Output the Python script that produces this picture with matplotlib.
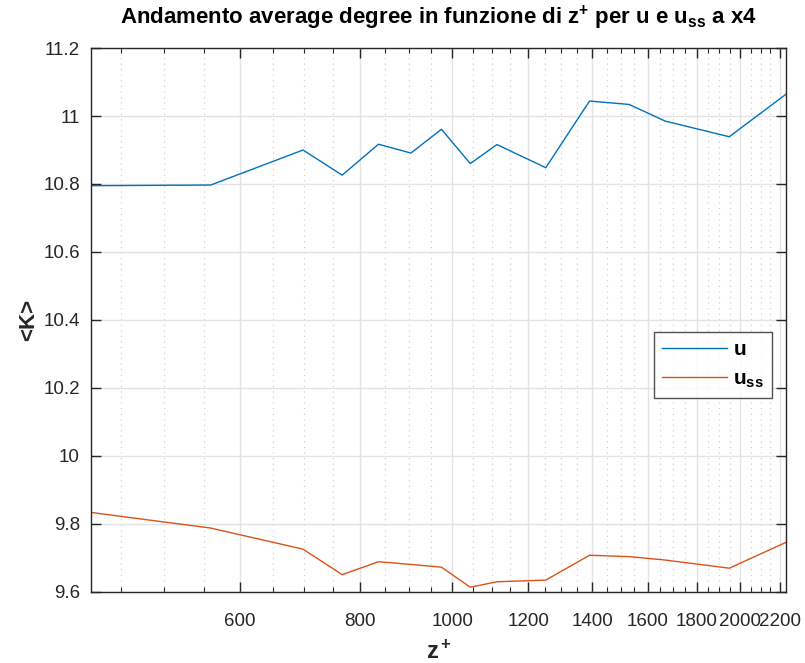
import numpy as np
import matplotlib
matplotlib.use('Agg')
import matplotlib.pyplot as plt
from matplotlib.ticker import FixedLocator, FuncFormatter, NullFormatter

plt.rcParams['font.family'] = ['Liberation Sans', 'DejaVu Sans']
plt.rcParams['mathtext.fontset'] = 'custom'
plt.rcParams['mathtext.rm'] = 'Liberation Sans'
plt.rcParams['mathtext.bf'] = 'Liberation Sans:bold'
plt.rcParams['mathtext.it'] = 'Liberation Sans:italic'

# z+ positions
z_plus = [419, 559, 698, 767, 837, 905, 974, 1044, 1113, 1252, 1391, 1530, 1669, 1947, 2232]
# average degree for u and u_ss
k_u = [10.795, 10.797, 10.900, 10.826, 10.917, 10.891, 10.961, 10.860, 10.916,
       10.848, 11.044, 11.034, 10.985, 10.939, 11.064]
k_uss = [9.834, 9.788, 9.726, 9.651, 9.689, 9.681, 9.673, 9.614, 9.630,
         9.635, 9.708, 9.704, 9.694, 9.670, 9.746]

major_x = [600, 800, 1000, 1200, 1400, 1600, 1800, 2000, 2200]
minor_x = [v for v in range(450, 2250, 50) if v not in major_x]
yticks = [9.6, 9.8, 10, 10.2, 10.4, 10.6, 10.8, 11, 11.2]

ax_col = '#262626'

fig = plt.figure(figsize=(8.05, 6.63), dpi=100)
ax = fig.add_axes([0.113, 0.1071, 0.8634, 0.8205])

ax.plot(z_plus, k_u, color='#0072BD', lw=1.0, label=r'$\mathbf{u}$')
ax.plot(z_plus, k_uss, color='#D95319', lw=1.0, label=r'$\mathbf{u_{ss}}$')

ax.set_xscale('log')
ax.set_xlim(z_plus[0], z_plus[-1])
ax.set_ylim(9.6, 11.2)
ax.xaxis.set_major_locator(FixedLocator(major_x))
ax.xaxis.set_minor_locator(FixedLocator(minor_x))
ax.xaxis.set_major_formatter(FuncFormatter(lambda v, p: '%d' % v))
ax.xaxis.set_minor_formatter(NullFormatter())
ax.set_yticks(yticks)
ax.yaxis.set_major_formatter(FuncFormatter(lambda v, p: '%g' % round(v, 2)))

ax.grid(True, which='major', color='#e3e3e3', lw=1.0, ls='-')
ax.grid(True, which='minor', axis='x', color='#c8c8c8', lw=0.8, ls=(0, (1, 4)))
ax.set_axisbelow(True)

ax.tick_params(which='both', direction='in', top=True, right=True, colors=ax_col,
               labelsize=13.5)
ax.tick_params(axis='x', which='both', pad=15)
ax.tick_params(axis='y', which='both', pad=8)
ax.tick_params(which='major', length=7, width=1.0)
ax.tick_params(which='minor', length=3.5, width=0.8)
for s in ax.spines.values():
    s.set_color(ax_col)
    s.set_linewidth(1.0)

ax.set_title(r'Andamento average degree in funzione di z$^\mathbf{+}$ per u e u$_\mathbf{ss}$ a x4',
             fontsize=16, fontweight='bold', color='black', pad=17)
ax.set_xlabel(r'$\mathbf{z^+}$', fontsize=17, color=ax_col, labelpad=8)
ax.set_ylabel('<K>', fontsize=16, fontweight='bold', color=ax_col, labelpad=3)

leg = ax.legend(loc='upper right', bbox_to_anchor=(0.98, 0.478), fontsize=15,
                frameon=True, fancybox=False, edgecolor=ax_col, handlelength=3.1,
                borderpad=0.4, labelspacing=0.5, handletextpad=0.3, borderaxespad=0)
leg.get_frame().set_linewidth(1.0)

fig.savefig('out.png', dpi=100)
